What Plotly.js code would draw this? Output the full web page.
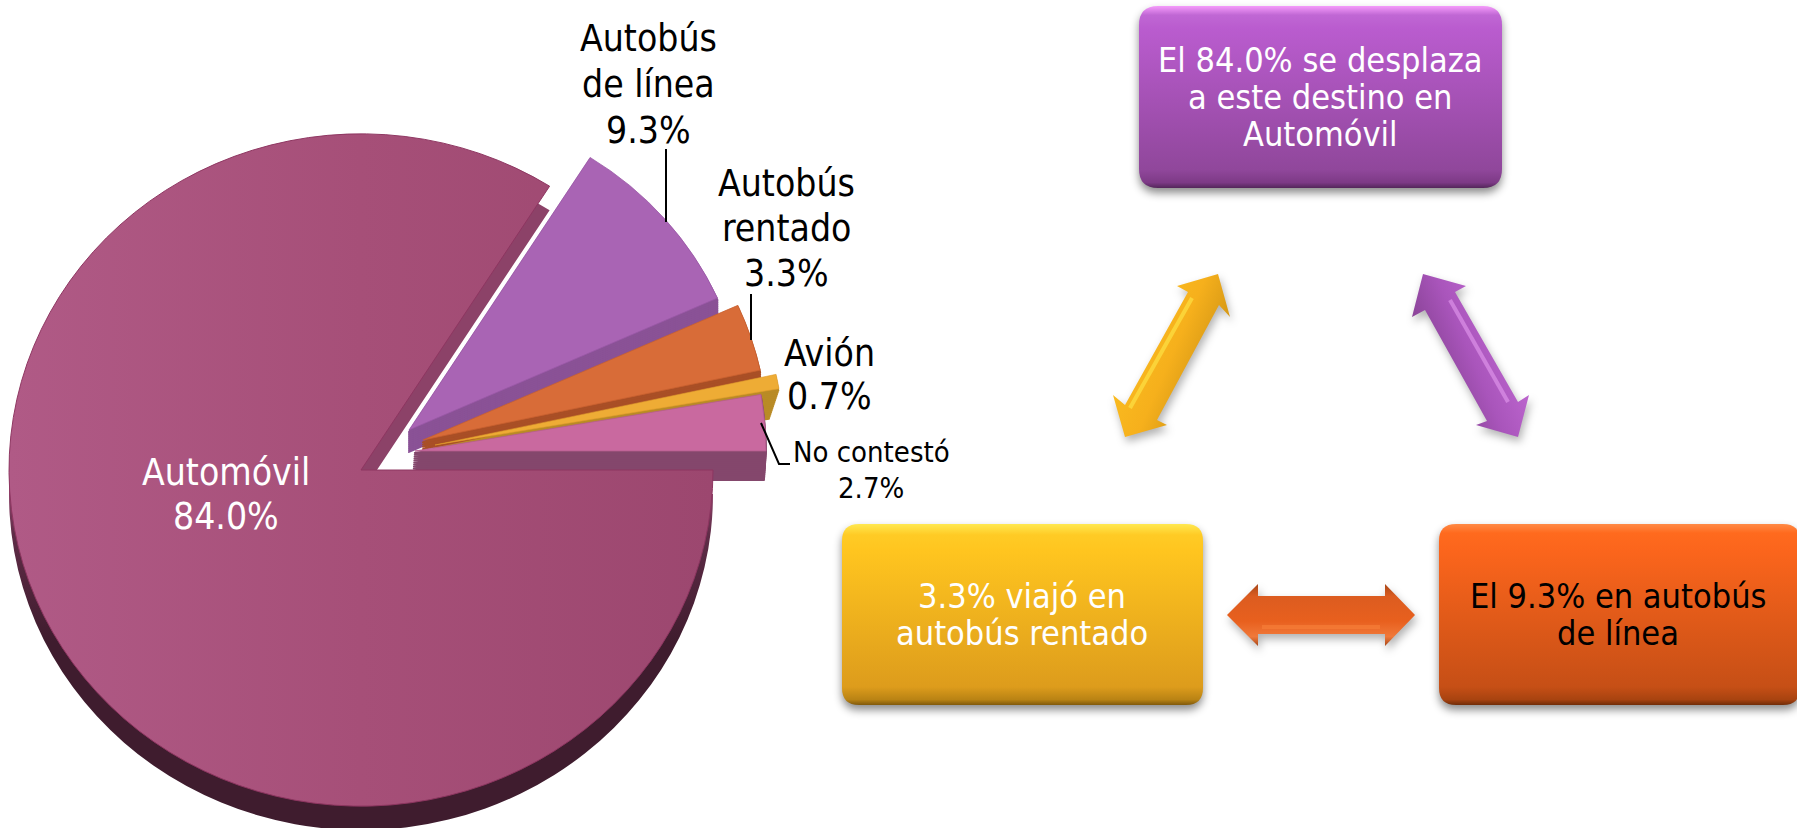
<!DOCTYPE html>
<html><head><meta charset="utf-8">
<script src="https://cdn.plot.ly/plotly-3.0.1.min.js"></script>
<style>html,body{margin:0;padding:0;background:#fff;overflow:hidden}#c{width:1797px;height:828px}</style>
</head><body><div id="c"></div>
<script>
// ---- data ----
const categories = ["Automóvil","Autobús de línea","Autobús rentado","Avión","No contestó"];
const shares     = [84.0, 9.3, 3.3, 0.7, 2.7];
const topColors  = ["#a54e77","#a964b4","#d86c38","#eeac35","#c9699f"];
const sideColors = ["#8c4268","#8a5296","#a94f26","#b98b26","#84476c"];
const edgeColors = ["#8d3560","#9a58a6","#c8602f","#e09c2c","#b55c8e"];
// ---- layout of the exploded pie (pixels) ----
const W=1797,H=828,K=0.955;
const centerX=[361,409,423,435,415], centerY=[470,430,440,445,451], radius=[352,338,345,349,351];
const depthX=[0,0,0,-10,-2], depthY=[24,22,9,30,29], depthN=[1,11,4,15,15];
const traces=[];
const startAngle=[90]; let acc=90+shares[0]*3.6-360;
for(let i=1;i<shares.length;i++){startAngle[i]=acc;acc+=shares[i]*3.6;}
function pie(i,dx,dy,color,lw,lc,fill){
  const r=radius[i],cx=centerX[i],cy=centerY[i];
  traces.push({type:'pie',values:[shares[i],100-shares[i]],labels:[categories[i],'resto'],sort:false,direction:'clockwise',
    rotation:startAngle[i],textinfo:'none',hoverinfo:'skip',showlegend:false,
    domain:{x:[(cx-r)/W,(cx+r)/W],y:[1-(cy+r)/H,1-(cy-r)/H]},
    marker:{colors:[color,'rgba(0,0,0,0)'],line:{color:[lc,'rgba(0,0,0,0)'],width:[lw,0]}},
    meta:{dx:dx,dy:dy,cy:cy,fill:fill||null}});
}
function stack(i,fill){
  const n=depthN[i];
  for(let s=n;s>=1;s--) pie(i,depthX[i]*s/n,depthY[i]*s/n,sideColors[i],i?2:0,sideColors[i],fill);
}
stack(1); pie(1,0,0,topColors[1],.8,edgeColors[1]);
stack(3); stack(2); pie(2,0,0,topColors[2],.8,edgeColors[2]);
pie(3,0,0,topColors[3],.6,edgeColors[3]);
stack(4); pie(4,0,0,topColors[4],.8,edgeColors[4]);
stack(0,'autoSide'); pie(0,0,0,topColors[0],1,edgeColors[0],'autoTop');

// ---- diagram ----
function rr(x0,y0,x1,y1,r){return `M${x0+r},${y0}L${x1-r},${y0}Q${x1},${y0} ${x1},${y0+r}L${x1},${y1-r}Q${x1},${y1} ${x1-r},${y1}L${x0+r},${y1}Q${x0},${y1} ${x0},${y1-r}L${x0},${y0+r}Q${x0},${y0} ${x0+r},${y0}Z`;}
function poly(p){return 'M'+p.map(q=>q.join(',')).join('L')+'Z';}
const shapeDefs=[
 {path:rr(1139,6,1502,188,19),grad:'boxP',shadow:1},
 {path:rr(842,524,1203,705,17),grad:'boxY',shadow:1},
 {path:rr(1439,524,1800,705,17),grad:'boxO',shadow:1},
 {path:poly([[1218,274],[1230,317],[1219,305],[1157,420],[1167,425],[1125,437],[1113,395],[1125,405],[1188,292],[1177,286]]),grad:'arY',shadow:2},
 {path:poly([[1423,274],[1466,286],[1455,292],[1518,402],[1529,395],[1518,437],[1476,425],[1487,421],[1425,310],[1412,317]]),grad:'arP',shadow:2},
 {path:poly([[1227,615],[1258,584],[1258,596],[1385,596],[1385,584],[1415,615],[1385,646],[1385,634],[1258,634],[1258,646]]),grad:'arO',shadow:2}
];
const shapes=shapeDefs.map(s=>({type:'path',path:s.path,xref:'x',yref:'y',fillcolor:'#888',line:{width:0},layer:'above'}));
const lines=[["M666,149L666,222"],["M751,294L751,340"],["M761,423L779,464L790,464"]];
lines.forEach(l=>shapes.push({type:'path',path:l[0],xref:'x',yref:'y',line:{color:'#000',width:2},layer:'above'}));
[["M1192,298L1130,408",'#ffe94a'],["M1450,300L1508,402",'#e59bf0'],["M1262,627L1380,627",'#f9813a']].forEach(h=>
  shapes.push({type:'path',path:h[0],xref:'x',yref:'y',line:{color:h[1],width:4},opacity:.6,layer:'above'}));

const F="'DejaVu Sans Condensed','DejaVu Sans',sans-serif";
const annotations=[];
function T(x,y,gap,rows,size,color){rows.forEach((t,i)=>annotations.push({xref:'x',yref:'y',x:x,y:y+i*gap,text:t,showarrow:false,xanchor:'center',yanchor:'middle',align:'center',font:{family:F,size:size,color:color}}));}
T(648,38,46,["Autobús","de línea","9.3%"],37,'#000');
T(786,183,45,["Autobús","rentado","3.3%"],37,'#000');
T(829,353,43,["Avión","0.7%"],37,'#000');
T(871,452,36,["No contestó","2.7%"],29,'#000');
T(226,472,44,["Automóvil","84.0%"],37,'#fff');
T(1320,60,37,["El 84.0% se desplaza","a este destino en","Automóvil"],34,'#fff');
T(1022,596,37,["3.3% viajó en","autobús rentado"],34,'#fff');
T(1618,596,37,["El 9.3% en autobús","de línea"],34,'#000');
const layout={width:W,height:H,margin:{l:0,r:0,t:0,b:0},paper_bgcolor:'#fff',plot_bgcolor:'#fff',showlegend:false,
 xaxis:{range:[0,W],visible:false,fixedrange:true},yaxis:{range:[H,0],visible:false,fixedrange:true},shapes:shapes,annotations:annotations};

const grads={
 autoTop:{d:[0,0,1,0],s:[[0,'#b05a86'],[.5,'#a64f78'],[1,'#9c476f']]},
 autoSide:{d:[0,0,0,1],s:[[0,'#8c4268'],[.5,'#8c4268'],[.56,'#5f2c47'],[.72,'#3f1c2e'],[1,'#3f1c2e']]},
 boxP:{d:[0,0,0,1],s:[[0,'#f59bfb'],[.05,'#c067d4'],[.12,'#ba5ccf'],[.9,'#90479b'],[.97,'#7d3a86'],[1,'#54265a']]},
 boxY:{d:[0,0,0,1],s:[[0,'#ffe850'],[.06,'#ffcb25'],[.15,'#ffc51f'],[.9,'#dd9c1c'],[.97,'#b98314'],[1,'#80590c']]},
 boxO:{d:[0,0,0,1],s:[[0,'#ff8a45'],[.05,'#ff6a1e'],[.15,'#fb651c'],[.9,'#c64f16'],[.97,'#a84310'],[1,'#702c08']]},
 arY:{d:[0,.2,1,.8],s:[[0,'#fcc322'],[.5,'#f6b01c'],[1,'#b88210']]},
 arP:{d:[1,.2,0,.8],s:[[0,'#cc72de'],[.5,'#a955bb'],[1,'#6f3478']]},
 arO:{d:[0,0,0,1],s:[[0,'#a8481a'],[.2,'#dc5c20'],[.6,'#e8601e'],[.85,'#f0793a'],[1,'#a8481a']]}
};
Plotly.newPlot('c',traces,layout,{staticPlot:true,displayModeBar:false}).then(gd=>{
  const svg=gd.querySelector('svg.main-svg'), NS='http://www.w3.org/2000/svg';
  const defs=document.createElementNS(NS,'defs');
  Object.keys(grads).forEach(id=>{
    const g=document.createElementNS(NS,'linearGradient'); g.setAttribute('id',id);
    const d=grads[id].d; ['x1','y1','x2','y2'].forEach((a,i)=>g.setAttribute(a,d[i]));
    grads[id].s.forEach(s=>{const t=document.createElementNS(NS,'stop');t.setAttribute('offset',s[0]);t.setAttribute('stop-color',s[1]);g.appendChild(t);});
    defs.appendChild(g);
  });
  svg.insertBefore(defs,svg.firstChild);
  gd.querySelectorAll('.pielayer .trace').forEach((tr,i)=>{
    const m=traces[i].meta;
    tr.querySelectorAll('path.surface').forEach((p,j)=>{
      p.setAttribute('transform',`translate(${m.dx},${m.dy+m.cy*(1-K)}) scale(1,${K})`);
      if(j===0&&m.fill) p.style.fill=`url(#${m.fill})`;
    });
  });
  shapeDefs.forEach((s,i)=>{
    const p=gd.querySelector(`.shapelayer path[data-index="${i}"]`);
    if(!p) return;
    p.style.fill=`url(#${s.grad})`; p.style.fillOpacity=1;
    p.style.filter=s.shadow===1?'drop-shadow(0 5px 4px rgba(0,0,0,.45))':'drop-shadow(2px 5px 4px rgba(0,0,0,.3))';
  });
});
</script></body></html>
